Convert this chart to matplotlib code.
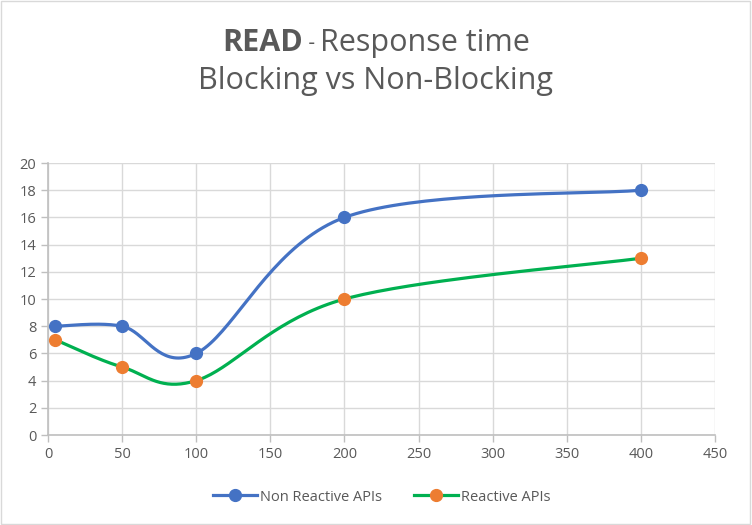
import matplotlib
matplotlib.use("Agg")
import matplotlib.pyplot as plt
import numpy as np
from matplotlib.lines import Line2D
from matplotlib.patches import Rectangle

plt.rcParams["font.family"] = ["Open Sans", "DejaVu Sans"]

# data
users = [5, 50, 100, 200, 400]
non_reactive = [8, 8, 6, 16, 18]
reactive = [7, 5, 4, 10, 13]

TEXT = "#595959"
GRID = "#D9D9D9"
AXIS = "#BFBFBF"


def smooth(xs, ys, n=40):
    """Excel-like smoothed line: Catmull-Rom style cubic Bezier segments."""
    p = np.column_stack([xs, ys]).astype(float)
    pts = np.vstack([p[0], p, p[-1]])
    out = []
    t = np.linspace(0, 1, n)[:, None]
    for i in range(1, len(pts) - 2):
        p0, p3 = pts[i], pts[i + 1]
        c1 = p0 + (pts[i + 1] - pts[i - 1]) / 6
        c2 = p3 - (pts[i + 2] - pts[i]) / 6
        seg = ((1 - t) ** 3) * p0 + 3 * ((1 - t) ** 2) * t * c1 \
            + 3 * (1 - t) * t ** 2 * c2 + t ** 3 * p3
        out.append(seg if i == 1 else seg[1:])
    seg = np.vstack(out)
    return seg[:, 0], seg[:, 1]


fig = plt.figure(figsize=(7.52, 5.25), dpi=100)
ax = fig.add_axes([0.0638, 0.1714, 0.8872, 0.5181])

series = [
    (non_reactive, "Non Reactive APIs", "#4472C4", "#4472C4"),
    (reactive, "Reactive APIs", "#00B050", "#ED7D31"),
]
handles = []
for vals, name, lc, mc in series:
    sx, sy = smooth(users, vals)
    ax.plot(sx, sy, color=lc, lw=2.3, zorder=3, solid_capstyle="round")
    ax.plot(users, vals, "o", color=mc, ms=8.5, zorder=4)
    handles.append(Line2D([], [], color=lc, lw=2.3, marker="o", ms=8.5,
                          markerfacecolor=mc, markeredgecolor=mc, label=name))

ax.set_xlim(0, 450)
ax.set_ylim(0, 20)
ax.set_xticks(np.arange(0, 451, 50))
ax.set_yticks(np.arange(0, 21, 2))
ax.grid(True, color=GRID, lw=1)
ax.set_axisbelow(True)
for s in ["top", "right"]:
    ax.spines[s].set_visible(False)
for s in ["left", "bottom"]:
    ax.spines[s].set_color(AXIS)
    ax.spines[s].set_linewidth(1.2)
ax.tick_params(colors=AXIS, labelcolor=TEXT, labelsize=10.5, length=5, width=1)

ax.legend(handles=handles, loc="center", bbox_to_anchor=(0.5, -0.228),
          ncol=2, frameon=False, fontsize=10.5, labelcolor=TEXT,
          handlelength=3, handletextpad=0.2, columnspacing=2.2)

# title with bold "READ"
y1 = 0.918
t1 = fig.text(0.5, y1, "READ", fontsize=22, fontweight="bold", color=TEXT,
              ha="left", va="center")
t2 = fig.text(0.5, y1, " - ", fontsize=15, color=TEXT, ha="left", va="center")
t3 = fig.text(0.5, y1, "Response time", fontsize=22, color=TEXT,
              ha="left", va="center")
fig.canvas.draw()
r = fig.canvas.get_renderer()
w = [t.get_window_extent(r).width for t in (t1, t2, t3)]
x = (fig.bbox.width - sum(w)) / 2
for t, wi in zip((t1, t2, t3), w):
    t.set_x(x / fig.bbox.width)
    x += wi
fig.text(0.5, 0.845, "Blocking vs Non-Blocking", fontsize=22, color=TEXT,
         ha="center", va="center")

fig.patches.append(Rectangle((0.001, 0.001), 0.997, 0.997, transform=fig.transFigure,
                             fill=False, edgecolor="#D9D9D9", lw=1))

fig.savefig("out.png", dpi=100)
